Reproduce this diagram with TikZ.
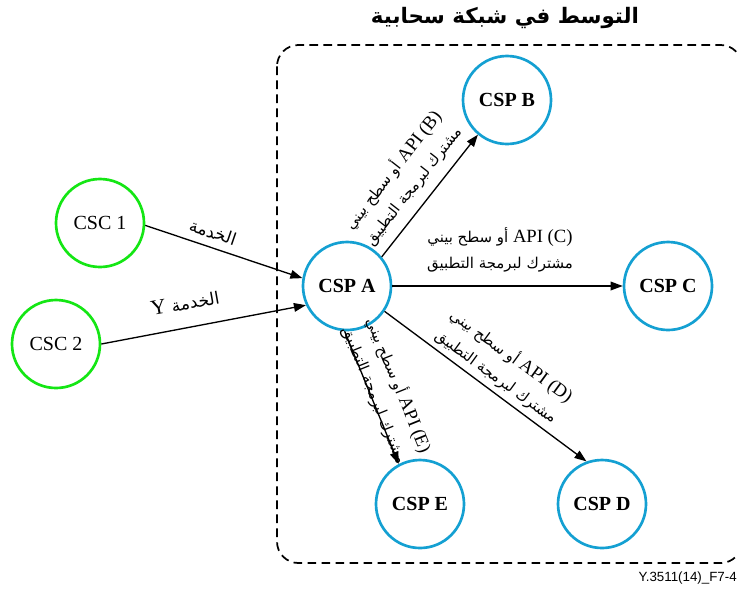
\documentclass[tikz,border=0pt]{standalone}
\usepackage{fontspec}
\setmainfont{Liberation Serif}
\newfontfamily\arabicfont[Script=Arabic,Scale=0.8]{DejaVu Sans}
\newfontfamily\titlefont[Script=Arabic]{DejaVu Sans}
\newfontfamily\tagfont{Liberation Sans}
\TeXXeTstate=1
\usetikzlibrary{arrows.meta}
\definecolor{cscgreen}{RGB}{20,230,20}
\definecolor{cspblue}{RGB}{20,160,210}

\tikzset{
  csc/.style={circle, draw=cscgreen, line width=2pt, minimum size=66pt,
    inner sep=0pt, font=\fontsize{15}{18}\selectfont},
  csp/.style={circle, draw=cspblue, line width=2pt, minimum size=66pt,
    inner sep=0pt, font=\fontsize{15}{18}\selectfont\bfseries},
  link/.style={line width=1pt, -{Triangle[length=9pt,width=6.5pt]}},
  lbl/.style={align=center, inner sep=0pt, font=\fontsize{14}{19}\selectfont},
}

\begin{document}
\begin{tikzpicture}[x=0.75pt,y=-0.75pt]
\useasboundingbox (0,0) rectangle (737,590);

% cloud boundary
\draw[line width=1.3pt, dash pattern=on 6.5pt off 4pt, rounded corners=16pt]
  (277,45) rectangle (742,563);
\node[font=\titlefont\bfseries\fontsize{16}{20}\selectfont] (title) at (505,18)
  {\beginR التوسط في شبكة سحابية\endR};

% customers and providers
\node[csc] (csc1) at (100,223) {CSC 1};
\node[csc] (csc2) at (56,344) {CSC 2};
\node[csp] (a) at (347,286) {CSP A};
\node[csp] (b) at (507,100) {CSP B};
\node[csp] (c) at (668,286) {CSP C};
\node[csp] (e) at (420,504) {CSP E};
\node[csp] (d) at (602,504) {CSP D};

% connections
\draw[link] (csc1.-3) -- (a.170);
\draw[link] (csc2.0) -- (a.205);
\draw[link] (a.40) -- (b.230);
\draw[link] (a.east) -- (c.west);
\draw[link] (a.-34) -- (d.110);
\draw[link] (a.-93) -- (e.118);

% connection labels
\node[lbl, rotate=-19, font=\fontsize{16}{19}\selectfont] (l1) at (213,232)
  {{\arabicfont\beginR الخدمة\endR}};
\node[lbl, rotate=10, font=\fontsize{16}{19}\selectfont] (l2) at (185,303)
  {{\arabicfont\beginR الخدمة\ {\rmfamily Y}\endR}};
\node[lbl, rotate=52] (lb) at (403,178)
  {{\arabicfont\beginR\beginL{\rmfamily API (B)}\endL\ أو سطح بيني\endR}\\
   {\arabicfont\beginR مشترك لبرمجة التطبيق\endR}};
\node[lbl] (lc) at (500,250)
  {{\arabicfont\beginR\beginL{\rmfamily API (C)}\endL\ أو سطح بيني\endR}\\
   {\arabicfont\beginR مشترك لبرمجة التطبيق\endR}};
\node[lbl, rotate=-36] (ld) at (504,366)
  {{\arabicfont\beginR\beginL{\rmfamily API (D)}\endL\ أو سطح بيني\endR}\\
   {\arabicfont\beginR مشترك لبرمجة التطبيق\endR}};
\node[lbl, rotate=-68] (le) at (387,390)
  {{\arabicfont\beginR\beginL{\rmfamily API (E)}\endL\ أو سطح بيني\endR}\\
   {\arabicfont\beginR مشترك لبرمجة التطبيق\endR}};

\node[anchor=east, inner sep=0pt, font=\tagfont\fontsize{10}{12}\selectfont]
  (tag) at (737,578) {Y.3511(14)\_F7-4};
\end{tikzpicture}
\end{document}
